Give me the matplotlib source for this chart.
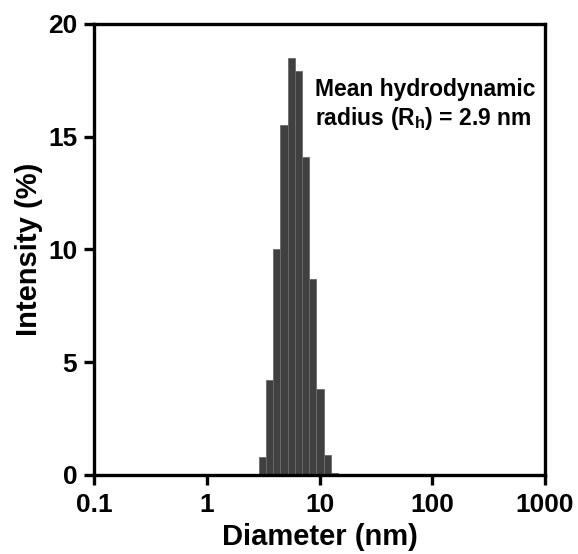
import numpy as np
import matplotlib.pyplot as plt

# DLS size distribution (intensity), bin centres in nm
diameter = [3.122, 3.615, 4.187, 4.849, 5.615, 6.503, 7.531, 8.721, 10.10, 11.70, 13.54]
intensity = [0.8, 4.2, 10.0, 15.5, 18.5, 17.9, 14.1, 8.7, 3.8, 0.9, 0.1]

plt.rcParams['font.family'] = ['Liberation Sans', 'DejaVu Sans']
plt.rcParams['font.weight'] = 'bold'
plt.rcParams['mathtext.fontset'] = 'custom'
plt.rcParams['mathtext.rm'] = 'Liberation Sans:bold'

fig = plt.figure(figsize=(5.78, 5.54), dpi=100)
ax = fig.add_axes([0.1626, 0.1426, 0.7804, 0.8141])

d = np.array(diameter)
ratio = np.sqrt(1.158)
left = d / ratio
ax.bar(left, intensity, width=d * ratio - left, align='edge',
       color='#404040', edgecolor='#6a6a6a', linewidth=0.6)

ax.set_xscale('log')
ax.set_xlim(0.1, 1000)
ax.set_ylim(0, 20)
ax.set_xticks([0.1, 1, 10, 100, 1000])
ax.set_xticklabels(['0.1', '1', '10', '100', '1000'])
ax.set_yticks([0, 5, 10, 15, 20])
ax.minorticks_off()

for s in ax.spines.values():
    s.set_linewidth(2.4)
ax.tick_params(direction='out', length=7, width=2.4, labelsize=19)
ax.tick_params(axis='x', pad=6)
ax.tick_params(axis='y', pad=5)

ax.set_xlabel('Diameter (nm)', fontsize=21, fontweight='bold', labelpad=4)
ax.set_ylabel('Intensity (%)', fontsize=21, fontweight='bold', labelpad=4)

ax.text(0.49, 0.88, 'Mean hydrodynamic\nradius (R$_{\\mathregular{h}}$) = 2.9 nm',
        transform=ax.transAxes, fontsize=16.5, fontweight='bold',
        va='top', ha='left', linespacing=1.2)

fig.savefig('out.png', dpi=100)
